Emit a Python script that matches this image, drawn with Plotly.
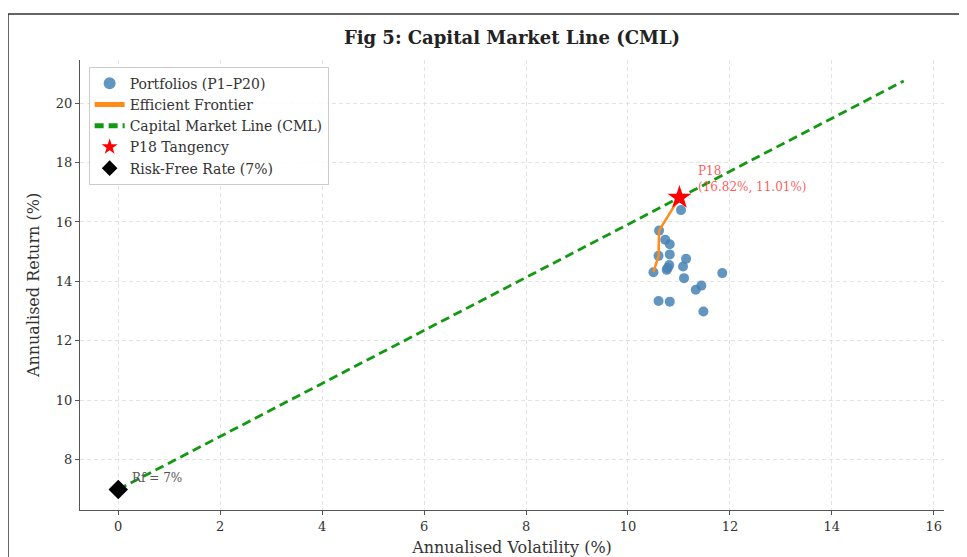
import plotly.graph_objects as go

# Portfolio data (volatility %, return %)
port_vol = [11.04, 10.61, 10.73, 10.82, 10.60, 10.82, 11.14, 10.81, 10.76, 11.08,
            10.50, 11.10, 11.85, 11.44, 11.33, 10.60, 10.82, 11.48, 10.78, 11.01]
port_ret = [16.40, 15.71, 15.40, 15.25, 14.86, 14.91, 14.76, 14.55, 14.39, 14.50,
            14.31, 14.11, 14.28, 13.86, 13.72, 13.34, 13.32, 12.99, 14.45, 16.82]

frontier_vol = [10.50, 10.60, 10.61, 11.01]
frontier_ret = [14.31, 14.86, 15.71, 16.82]

rf = 7.0
tan_vol, tan_ret = 11.01, 16.82
cml_vol = [0.0, 15.41]
cml_ret = [rf, rf + (tan_ret - rf) / tan_vol * 15.41]

x_ticks = [0, 2, 4, 6, 8, 10, 12, 14, 16]
y_ticks = [8, 10, 12, 14, 16, 18, 20]

FONT = "DejaVu Serif"

fig = go.Figure()
fig.add_trace(go.Scatter(x=port_vol, y=port_ret, mode="markers",
                         name="Portfolios (P1–P20)",
                         marker=dict(color="rgba(70,130,180,0.85)", size=10)))
fig.add_trace(go.Scatter(x=frontier_vol, y=frontier_ret, mode="lines",
                         name="Efficient Frontier",
                         line=dict(color="#ff8c1a", width=2.5)))
fig.add_trace(go.Scatter(x=cml_vol, y=cml_ret, mode="lines",
                         name="Capital Market Line (CML)",
                         line=dict(color="#119911", width=2.8, dash="9px,5px")))
fig.add_trace(go.Scatter(x=[tan_vol], y=[tan_ret], mode="markers",
                         name="P18 Tangency",
                         marker=dict(symbol="star", color="red", size=18,
                                     line=dict(width=0))))
fig.add_trace(go.Scatter(x=[0], y=[rf], mode="markers",
                         name="Risk-Free Rate (7%)",
                         marker=dict(symbol="diamond", color="black", size=15,
                                     line=dict(width=0))))

fig.add_annotation(x=11.33, y=17.45, text="P18<br>(16.82%, 11.01%)",
                   showarrow=False, xanchor="left", yanchor="middle", align="left",
                   font=dict(family=FONT, size=12, color="rgba(255,60,60,0.85)"))
fig.add_annotation(x=0.24, y=7.39, text="Rf = 7%", showarrow=False,
                   xanchor="left", yanchor="middle",
                   font=dict(family=FONT, size=12, color="#555"))

# outer frame (left and top edges visible in the picture)
fx0 = (8 - 80) / 864
fy1 = (510 - 14) / 450
fig.add_shape(type="line", xref="paper", yref="paper",
              x0=fx0, x1=1.1, y0=fy1, y1=fy1,
              line=dict(color="#333", width=1.5), layer="below")
fig.add_shape(type="line", xref="paper", yref="paper",
              x0=fx0, x1=fx0, y0=-0.2, y1=fy1,
              line=dict(color="#333", width=1.5), layer="below")

axis_common = dict(showline=True, linecolor="#555", linewidth=1.3,
                   ticks="outside", ticklen=4, tickcolor="#555",
                   showgrid=True, gridcolor="rgba(215,215,215,0.7)",
                   griddash="4px,3px", gridwidth=1, zeroline=False, mirror=False,
                   automargin=False,
                   tickfont=dict(family=FONT, size=13, color="#333"))

fig.update_layout(
    width=959, height=549,
    margin=dict(l=72, r=23, t=52, b=47, autoexpand=False),
    paper_bgcolor="white", plot_bgcolor="white",
    font=dict(family=FONT, color="#333"),
    title=dict(text="<b>Fig 5: Capital Market Line (CML)</b>", x=504 / 959,
               xanchor="center", y=1 - 30 / 549, yanchor="middle",
               font=dict(family=FONT, size=18, color="#222")),
    xaxis=dict(range=[-0.75, 16.2], tickvals=x_ticks,
               title=dict(text="Annualised Volatility (%)", standoff=12,
                          font=dict(family=FONT, size=16, color="#333")),
               **axis_common),
    yaxis=dict(range=[6.31, 21.45], tickvals=y_ticks,
               title=dict(text="Annualised Return (%)", standoff=12,
                          font=dict(family=FONT, size=16, color="#333")),
               **axis_common),
    legend=dict(x=0.01, y=0.985, xanchor="left", yanchor="top",
                bgcolor="rgba(255,255,255,0.85)", bordercolor="#ccc",
                borderwidth=1, font=dict(family=FONT, size=14, color="#333"),
                tracegroupgap=0, itemsizing="constant"),
    showlegend=True,
)

fig.write_html("out.html")
